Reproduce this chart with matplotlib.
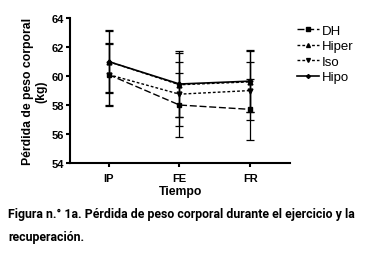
import matplotlib.pyplot as plt

plt.rcParams['font.family'] = ['Liberation Sans', 'DejaVu Sans']

times = ['IP', 'FE', 'FR']
dh = [60.1, 58.0, 57.7]
dh_err = [2.1, 2.2, 2.1]
hiper = [61.0, 59.4, 59.6]
hiper_err = [2.2, 2.2, 2.1]
iso = [60.1, 58.75, 59.0]
iso_err = [2.2, 2.2, 2.0]
hipo = [61.0, 59.45, 59.65]
hipo_err = [2.1, 2.25, 2.15]

fig = plt.figure(figsize=(3.7, 2.55), dpi=100)
ax = fig.add_axes([0.19, 0.357, 0.594, 0.568])
x = range(len(times))

kw = dict(color='black', lw=1.0, capsize=3, elinewidth=0.9, capthick=0.9, markersize=3.5)
c1 = ax.errorbar(x, dh, yerr=dh_err, fmt='s', ls=(0, (5, 2)), label='DH', **kw)
c2 = ax.errorbar(x, hiper, yerr=hiper_err, fmt='^', ls=(0, (2, 1.5)), label='Hiper', **kw)
c3 = ax.errorbar(x, iso, yerr=iso_err, fmt='v', ls=(0, (2, 1.5)), label='Iso', **kw)
c4 = ax.errorbar(x, hipo, yerr=hipo_err, fmt='D', ls='-', label='Hipo',
                 color='black', lw=1.2, capsize=3, elinewidth=0.9, capthick=0.9, markersize=2.5)

ax.set_xlim(-0.54, 2.56)
ax.set_ylim(54, 64)
ax.set_yticks([54, 56, 58, 60, 62, 64])
ax.set_xticks(list(x))
ax.set_xticklabels(times)
for s in ['top', 'right']:
    ax.spines[s].set_visible(False)
for s in ['left', 'bottom']:
    ax.spines[s].set_linewidth(1.5)
ax.tick_params(width=1.5, length=3, labelsize=8, pad=1.5)
ax.tick_params(axis='x', pad=4)
for t in ax.get_xticklabels() + ax.get_yticklabels():
    t.set_fontweight('bold')
ax.set_ylabel('Pérdida de peso corporal\n(kg)', fontsize=8.8, fontweight='bold', labelpad=3)
ax.set_xlabel('Tiempo', fontsize=8.8, fontweight='bold', labelpad=2)

handles = [c[0] for c in (c1, c2, c3, c4)]
labels = ['DH', 'Hiper', 'Iso', 'Hipo']
leg = ax.legend(handles, labels, loc='upper left', bbox_to_anchor=(1.03, 0.955), frameon=False,
                fontsize=9.5, handlelength=1.7, handletextpad=0.2, labelspacing=0.25,
                borderaxespad=0, borderpad=0, markerscale=0.8)

cap_font = ['Roboto', 'DejaVu Sans']
line1 = fig.text(0.022, 0.157, 'Figura n.° 1a. Pérdida de peso corporal durante el ejercicio y la',
                 fontsize=8, fontweight='bold', family=cap_font, va='center')
line2 = fig.text(0.022, 0.067, 'recuperación.', fontsize=8, fontweight='bold',
                 family=cap_font, va='center')

# fit caption width to the reference (about 348 px)
fig.canvas.draw()
w = line1.get_window_extent().width
fs = 8 * 348 / w
line1.set_fontsize(fs)
line2.set_fontsize(fs)

fig.savefig('out.png', dpi=100)
